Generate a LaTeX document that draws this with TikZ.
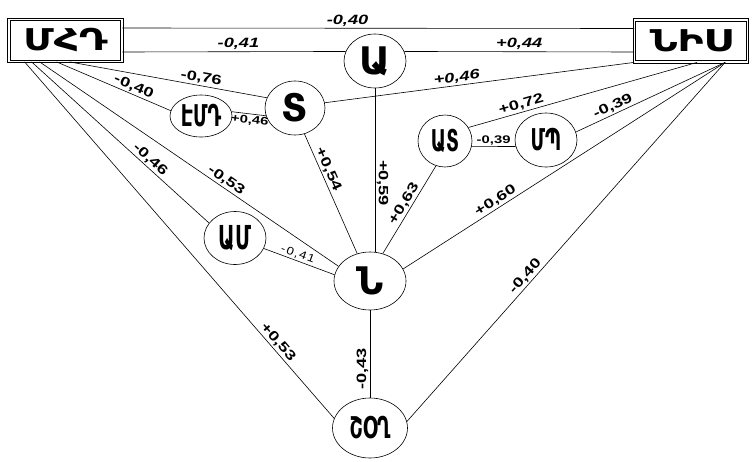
\documentclass[tikz,border=0pt]{standalone}
\usepackage{fontspec}
\setmainfont{Liberation Sans}
\newfontfamily\armfont{DejaVu Sans}
\newfontfamily\armcond[FakeStretch=0.62]{DejaVu Sans}
\newfontfamily\armwide[FakeStretch=1.3]{DejaVu Sans}
\newfontfamily\numfont[FakeStretch=1.35]{Liberation Sans}
\newfontfamily\spfont[FakeStretch=1.2,LetterSpace=12]{Liberation Sans}
\usetikzlibrary{shapes.geometric}
\begin{document}
\begin{tikzpicture}[x=1pt, y=-1pt, line width=0.6pt,
        box/.style={draw, double, double distance=1.6pt, line width=0.8pt, inner sep=0pt,
            minimum width=113pt, minimum height=42pt, font=\armwide\bfseries\fontsize{30}{30}\selectfont},
        n/.style={ellipse, draw, inner sep=0pt, font=\armfont\bfseries\fontsize{38}{38}\selectfont},
        nc/.style={n, font=\armcond\bfseries\fontsize{30}{30}\selectfont},
        lbl/.style={sloped, above, inner sep=1.5pt, font=\numfont\bfseries\fontsize{13.5}{13.5}\selectfont},
        lbli/.style={lbl, font=\numfont\bfseries\itshape\fontsize{13.5}{13.5}\selectfont},
        lbls/.style={lbl, font=\numfont\bfseries\fontsize{11}{11}\selectfont},
        lblt/.style={lbl, font=\spfont\fontsize{11}{11}\selectfont}]
    \useasboundingbox (0,0) rectangle (754,461);

    \node[box] (mhd) at (65.5,40.5) {ՄՀԴ};
    \node[box] (nis) at (691,41) {ՆԻՍ};
    \node[n, minimum width=62pt, minimum height=54pt] (a) at (375,61) {Ա};
    \node[n, minimum width=60pt, minimum height=54pt] (t) at (295,108) {Տ};
    \node[nc, minimum width=62pt, minimum height=42pt] (emd) at (201,116) {ԷՄԴ};
    \node[nc, minimum width=54pt, minimum height=52pt] (as) at (445,141) {ԱՏ};
    \node[nc, minimum width=62pt, minimum height=54pt] (mp) at (546,140) {ՄՊ};
    \node[nc, minimum width=62pt, minimum height=53pt, font=\armcond\bfseries\fontsize{33}{33}\selectfont] (am) at (235,238) {ԱՄ};
    \node[n, minimum width=72pt, minimum height=58pt] (nn) at (370,281) {Ն};
    \node[nc, minimum width=75pt, minimum height=60pt] (shou) at (370,428) {ՇՕՂ};

    \coordinate (mf1) at ([xshift=16pt]mhd.south west);
    \coordinate (mf2) at ([xshift=23pt]mhd.south west);
    \coordinate (mf3) at ([xshift=31pt]mhd.south west);
    \coordinate (mf4) at ([xshift=48pt]mhd.south west);
    \coordinate (mf5) at ([xshift=61pt]mhd.south west);
    \coordinate (nf1) at ([xshift=63pt]nis.south west);
    \coordinate (nf2) at ([xshift=91pt]nis.south west);

    \draw ([yshift=12.5pt]mhd.east) -- node[lbli, pos=0.44] {-0,40} ([yshift=12.5pt]nis.west);
    \draw ([yshift=-11.5pt]mhd.east) -- node[lbli, pos=0.52] {-0,41} (a.162);
    \draw (a.18) -- node[lbli, pos=0.5] {+0,44} ([yshift=-11pt]nis.west);
    \draw (t.10) -- node[lbli, pos=0.43] {+0,46} (nis.south west);
    \draw (mf5) -- node[lbl, pos=0.66] {-0,76} (t.160);
    \draw (mf4) -- node[lbl, pos=0.65] {-0,40} (emd.170);
    \draw (emd.8) -- node[lbls, below, pos=0.55] {+0,46} (t.195);
    \draw (mf2) -- node[lbl, pos=0.64] {-0,46} (am.150);
    \draw (mf3) -- node[lbl, pos=0.61] {-0,53} (nn.155);
    \draw (mf1) -- node[lbl, pos=0.8] {+0,53} (shou.165);
    \draw (t.290) -- node[lbl, pos=0.32] {+0,54} (nn.115);
    \draw (a.south) -- node[lbl, pos=0.58] {+0,59} (a.south |- nn.north);
    \draw (nn.65) -- node[lbl, pos=0.52] {+0,63} (as.250);
    \draw (am.-20) -- node[lblt, pos=0.45] {-0,41} (nn.170);
    \draw (as.-12) -- node[lbls, pos=0.5] {-0,39} (mp.192);
    \draw (as.30) -- node[lbl, pos=0.24] {+0,72} (nf1);
    \draw (mp.15) -- node[lbl, pos=0.27] {-0,39} (nf2);
    \draw (nn.20) -- node[lbl, pos=0.3] {+0,60} (nf2);
    \draw (shou.10) -- node[lbl, pos=0.39] {-0,40} (nf2);
    \draw (shou.north) -- node[lbl, pos=0.33] {-0,43} (shou.north |- nn.south);
\end{tikzpicture}
\end{document}
